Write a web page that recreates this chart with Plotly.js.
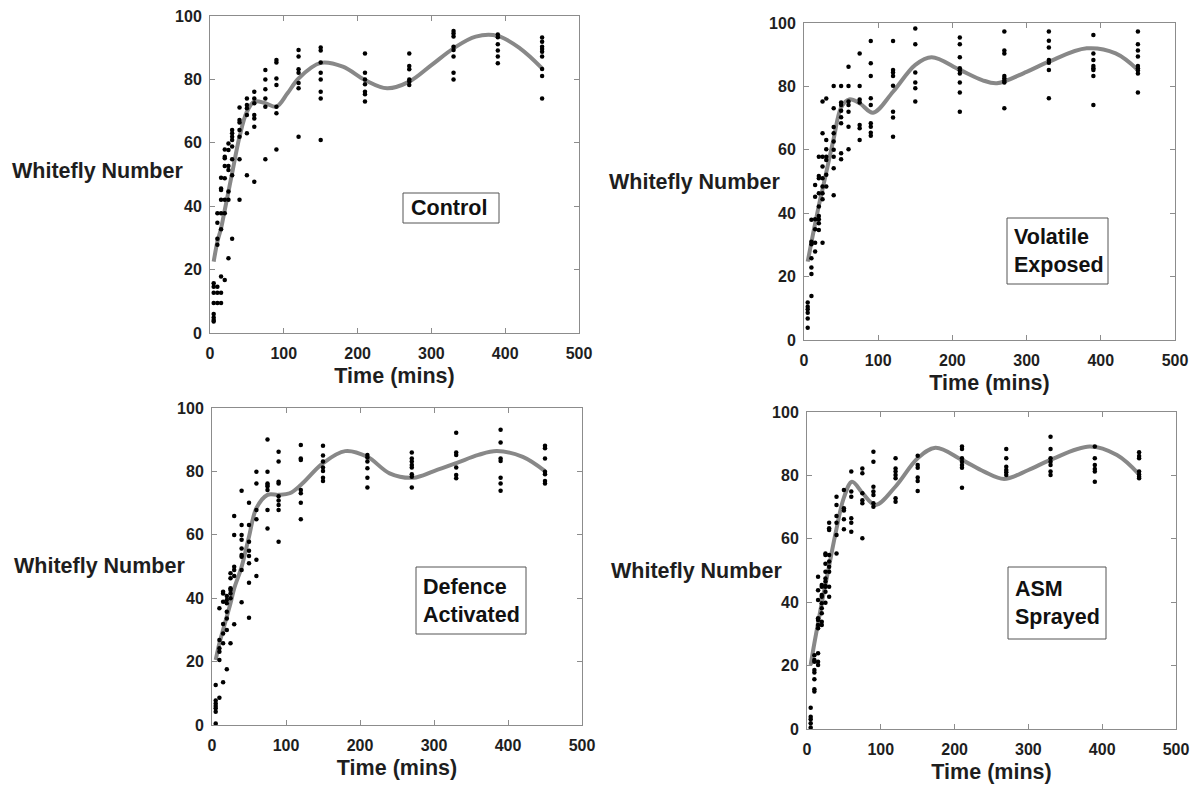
<!DOCTYPE html>
<html>
<head>
<meta charset="utf-8">
<script src="https://cdn.plot.ly/plotly-3.0.1.min.js"></script>
<style>html,body{margin:0;padding:0;background:#fff;}#chart{width:1200px;height:787px;}</style>
</head>
<body>
<div id="chart"></div>
<script>
// Observation times (mins)
const timePoints = [5, 10, 15, 20, 25, 30, 40, 50, 60, 75, 90, 120, 150, 210, 270, 330, 390, 450];

// Whitefly counts per time point (one inner array per time point)
const controlCounts = [
  [15.7, 14.6, 12.7, 9.5, 6.0, 4.9, 4.1, 3.6],
  [37.8, 34.8, 29.7, 27.8, 14.6, 12.7, 9.5],
  [49.0, 45.6, 45.1, 42.0, 37.8, 32.7, 17.8, 12.7, 9.5],
  [57.9, 55.6, 55.1, 52.7, 48.8, 42.0, 37.8, 16.7],
  [59.8, 57.7, 52.7, 51.4, 44.6, 42.0, 23.6],
  [64.0, 63.0, 61.9, 60.9, 58.8, 54.8, 49.8, 29.7],
  [71.1, 67.2, 66.4, 64.0, 61.9, 54.8, 42.0],
  [74.0, 71.9, 70.9, 68.8, 63.0, 49.8],
  [76.1, 74.0, 72.5, 68.8, 67.7, 65.1, 47.7],
  [83.0, 80.0, 76.9, 74.0, 71.4, 54.8],
  [86.1, 85.3, 80.3, 78.2, 71.4, 69.3, 57.9],
  [89.3, 87.2, 83.2, 82.1, 78.9, 77.2, 61.9],
  [90.1, 89.1, 85.3, 82.1, 80.0, 76.1, 74.0, 60.9],
  [88.2, 82.1, 80.0, 78.5, 76.1, 75.3, 73.0],
  [88.2, 84.2, 83.2, 80.0, 79.3, 78.2],
  [95.3, 94.5, 93.5, 90.3, 89.3, 87.2, 82.1, 80.0],
  [94.2, 93.3, 91.1, 89.1, 87.2, 85.1],
  [93.2, 91.9, 90.3, 89.6, 88.7, 87.2, 83.3, 81.1, 74.0]
];
const volatileCounts = [
  [11.8, 10.5, 9.7, 8.6, 6.8, 3.9],
  [37.9, 31.0, 30.2, 25.8, 22.9, 20.8, 13.9],
  [48.9, 45.2, 38.1, 34.9, 30.7, 27.9],
  [57.8, 51.7, 51.0, 46.3, 42.1, 39.1, 38.1, 36.8, 34.7],
  [75.2, 65.2, 57.8, 54.7, 51.0, 48.4, 46.3, 44.4, 30.7],
  [76.2, 63.1, 60.2, 57.8, 56.8, 52.1, 48.4],
  [80.1, 73.1, 67.2, 65.2, 62.6, 60.0, 57.8, 54.2, 45.7],
  [80.1, 74.9, 74.1, 72.3, 70.3, 68.4, 58.9, 57.0],
  [86.2, 80.1, 75.2, 74.1, 72.0, 67.3, 60.2],
  [90.4, 80.1, 75.9, 74.9, 67.8, 66.8, 63.1],
  [94.3, 87.3, 83.3, 76.3, 74.1, 68.4, 67.3, 65.4, 64.4],
  [94.3, 85.2, 84.4, 83.3, 80.2, 72.0, 70.2, 64.1],
  [98.3, 93.3, 84.4, 81.2, 79.4, 75.2],
  [95.4, 93.3, 89.2, 85.7, 85.0, 84.1, 81.2, 78.1, 72.0],
  [97.3, 91.3, 90.4, 83.3, 82.6, 81.8, 81.2, 73.1],
  [97.3, 94.4, 92.3, 88.3, 87.5, 85.2, 76.3],
  [96.2, 90.4, 88.3, 86.4, 85.7, 85.2, 83.3, 74.1],
  [97.3, 93.3, 91.3, 89.4, 86.4, 85.7, 85.0, 84.1, 78.1]
];
const defenceCounts = [
  [12.6, 7.7, 6.8, 6.0, 5.3, 4.2, 0.5],
  [36.8, 26.8, 24.2, 23.1, 20.5, 8.6],
  [42.0, 41.5, 38.9, 31.9, 28.9, 25.8, 13.5],
  [40.7, 39.4, 38.4, 35.7, 33.6, 30.0, 17.6],
  [47.9, 46.3, 43.1, 42.6, 41.5, 40.0, 25.8],
  [65.9, 59.9, 49.9, 48.9, 47.0, 31.8],
  [73.9, 63.1, 59.9, 58.4, 55.7, 53.6, 53.1, 48.9, 38.7],
  [70.1, 63.1, 57.8, 55.0, 53.3, 51.0, 44.9, 33.8],
  [79.9, 76.2, 67.8, 64.9, 52.1, 47.0],
  [90.1, 79.9, 76.2, 75.7, 75.2, 74.1, 67.8, 62.0],
  [86.2, 83.1, 76.7, 76.2, 72.2, 70.8, 69.4, 67.8, 57.8],
  [88.3, 84.1, 83.6, 74.1, 73.1, 70.1, 64.9],
  [88.1, 85.0, 83.1, 81.2, 80.1, 78.0, 77.0],
  [85.2, 84.4, 83.1, 81.0, 78.0, 74.9],
  [86.0, 84.1, 83.1, 82.0, 81.2, 79.1, 78.3, 74.9],
  [92.2, 86.0, 85.2, 81.2, 78.9, 77.8],
  [93.1, 89.1, 84.1, 83.3, 78.0, 76.2, 73.9],
  [88.1, 87.3, 84.1, 79.9, 79.1, 77.0, 76.2]
];
const asmCounts = [
  [6.7, 3.9, 3.1, 1.8, 0.5],
  [23.3, 21.8, 21.2, 18.6, 17.8, 15.7, 12.5, 11.8],
  [48.0, 43.8, 40.7, 34.9, 34.4, 32.8, 31.8, 23.9, 21.2, 20.2],
  [45.4, 44.9, 42.3, 41.7, 39.7, 38.1, 36.5, 33.8, 32.8],
  [55.4, 54.9, 52.1, 49.6, 47.5, 46.5, 45.1, 44.9, 43.3, 39.8],
  [65.1, 63.3, 62.8, 54.9, 52.8, 51.2, 49.6, 44.9, 41.7],
  [73.3, 70.7, 67.2, 65.1, 61.2, 55.4],
  [75.4, 69.6, 68.9, 66.2, 63.0],
  [81.2, 74.9, 73.3, 66.5, 65.1, 62.2],
  [82.2, 80.7, 74.4, 72.2, 71.2, 60.2],
  [87.5, 84.3, 76.4, 74.9, 73.8, 71.2, 70.1],
  [85.4, 82.2, 81.2, 80.1, 79.1, 72.8, 71.7],
  [86.2, 83.3, 82.4, 79.3, 78.2, 75.1],
  [89.1, 88.3, 85.4, 84.3, 83.3, 82.4, 76.1],
  [88.3, 85.4, 82.7, 81.7, 81.0, 80.1],
  [92.2, 88.3, 85.4, 84.3, 83.3, 81.2, 80.1],
  [89.1, 85.4, 83.3, 82.0, 81.2, 78.0],
  [87.3, 86.1, 85.4, 81.2, 80.3, 79.6, 79.1]
];

// Fitted curves
const controlFitTime = [5, 10, 15, 20, 25, 30, 40, 50, 60, 75, 90, 105, 120, 150, 180, 210, 240, 270, 300, 330, 360, 390, 420, 450];
const controlFit = [22.5, 28.8, 33.0, 38.8, 44.6, 50.4, 61.9, 69.8, 73.0, 72.5, 71.4, 75.6, 80.3, 85.2, 84.0, 79.8, 77.2, 79.3, 84.5, 89.8, 93.5, 93.7, 89.8, 83.5];
const volatileFitTime = [5, 10, 15, 20, 25, 30, 40, 50, 61, 75, 93, 120, 150, 172, 210, 240, 260, 300, 330, 381, 420, 450];
const volatileFit = [24.7, 30.9, 36.7, 42.4, 47.6, 52.9, 63.5, 73.3, 75.9, 74.7, 71.7, 78.3, 86.8, 89.2, 85.2, 82.0, 81.0, 84.6, 87.8, 92.0, 90.4, 85.2];
const defenceFitTime = [5, 10, 15, 20, 25, 30, 40, 50, 60, 75, 90, 105, 120, 150, 180, 210, 240, 272, 300, 330, 360, 385, 420, 450];
const defenceFit = [20.5, 25.8, 30.0, 34.2, 38.4, 43.1, 49.9, 59.4, 68.4, 72.6, 72.6, 73.1, 75.7, 82.6, 86.4, 84.6, 79.4, 78.0, 80.1, 82.6, 85.2, 86.4, 84.6, 80.1];
const asmFitTime = [5, 10, 15, 20, 25, 30, 40, 50, 61, 75, 93, 120, 150, 174, 210, 240, 267, 300, 330, 383, 420, 450];
const asmFit = [20.2, 27.1, 33.4, 39.8, 45.6, 51.5, 63.2, 73.0, 78.0, 74.5, 70.7, 76.5, 85.4, 88.7, 84.9, 81.2, 78.9, 81.7, 84.9, 89.1, 86.4, 80.3];

// Axis / label text
const xTitle = 'Time (mins)';
const yTitle = 'Whitefly Number';
const panelLabels = ['Control', 'Volatile<br>Exposed', 'Defence<br>Activated', 'ASM<br>Sprayed'];
const xTicks = [0, 100, 200, 300, 400, 500];
const yTicks = [0, 20, 40, 60, 80, 100];

// ---------- layout helpers ----------
const W = 1200, H = 787;
const FONT = 'Liberation Sans, Arial, Helvetica, sans-serif';
const px = v => v / W;
const py = v => 1 - v / H;

const panels = [
  {counts: controlCounts, fitT: controlFitTime, fit: controlFit, box: [210, 579, 16, 333],
   yt: [10, 171], lab: [403, 499, 193, 223, 409]},
  {counts: volatileCounts, fitT: volatileFitTime, fit: volatileFit, box: [804, 1175, 23, 340],
   yt: [607, 182], lab: [1007, 1108, 218, 284, 1012]},
  {counts: defenceCounts, fitT: defenceFitTime, fit: defenceFit, box: [212, 582, 408, 725],
   yt: [12, 566], lab: [416, 526, 567, 634, 421]},
  {counts: asmCounts, fitT: asmFitTime, fit: asmFit, box: [807, 1176, 412, 729],
   yt: [609, 571], lab: [1008, 1106, 567, 639, 1013]}
];

const traces = [];
const layout = {
  width: W, height: H,
  margin: {l: 0, r: 0, t: 0, b: 0},
  paper_bgcolor: '#ffffff', plot_bgcolor: '#ffffff',
  showlegend: false,
  font: {family: FONT, color: '#1e1e1e'},
  annotations: [], shapes: []
};

panels.forEach((p, i) => {
  const sfx = i === 0 ? '' : String(i + 1);
  const xs = [], ys = [];
  p.counts.forEach((col, k) => col.forEach(v => { xs.push(timePoints[k]); ys.push(v); }));
  traces.push({
    type: 'scatter', mode: 'lines', x: p.fitT, y: p.fit,
    xaxis: 'x' + sfx, yaxis: 'y' + sfx,
    line: {color: '#888888', width: 4, shape: 'spline', smoothing: 1},
    hoverinfo: 'skip'
  });
  traces.push({
    type: 'scatter', mode: 'markers', x: xs, y: ys,
    xaxis: 'x' + sfx, yaxis: 'y' + sfx,
    marker: {color: '#000000', size: 4.5}
  });
  const [l, r, t, b] = p.box;
  const common = {
    showgrid: false, zeroline: false, showline: true, mirror: 'ticks',
    linecolor: '#8c8c8c', linewidth: 1, ticks: 'inside', ticklen: 5,
    tickcolor: '#8c8c8c', tickwidth: 1,
    tickfont: {family: FONT, size: 16, color: '#1e1e1e', weight: 'bold'}
  };
  layout['xaxis' + sfx] = Object.assign({}, common, {
    domain: [px(l), px(r)], range: [0, 500], tickvals: xTicks,
    anchor: 'y' + sfx, ticklabelstandoff: 6,
    title: {text: xTitle, font: {family: FONT, size: 21.5, color: '#1e1e1e', weight: 'bold'}, standoff: 6}
  });
  layout['yaxis' + sfx] = Object.assign({}, common, {
    domain: [py(b), py(t)], range: [0, 100], tickvals: yTicks,
    anchor: 'x' + sfx, ticklabelstandoff: 4
  });
  layout.annotations.push({
    xref: 'paper', yref: 'paper', x: px(p.yt[0]), y: py(p.yt[1]),
    xanchor: 'left', yanchor: 'middle', showarrow: false, text: yTitle,
    font: {family: FONT, size: 21.5, color: '#1e1e1e', weight: 'bold'}
  });
  const [bx0, bx1, by0, by1, tx] = p.lab;
  layout.shapes.push({
    type: 'rect', xref: 'paper', yref: 'paper',
    x0: px(bx0), x1: px(bx1), y0: py(by1), y1: py(by0),
    line: {color: '#555555', width: 1}, fillcolor: '#ffffff'
  });
  layout.annotations.push({
    xref: 'paper', yref: 'paper', x: px(tx), y: py((by0 + by1) / 2),
    xanchor: 'left', yanchor: 'middle', align: 'left', showarrow: false,
    text: panelLabels[i],
    font: {family: FONT, size: 21.5, color: '#111111', weight: 'bold'}
  });
});

Plotly.newPlot('chart', traces, layout, {displayModeBar: false, staticPlot: true});
</script>
</body>
</html>
